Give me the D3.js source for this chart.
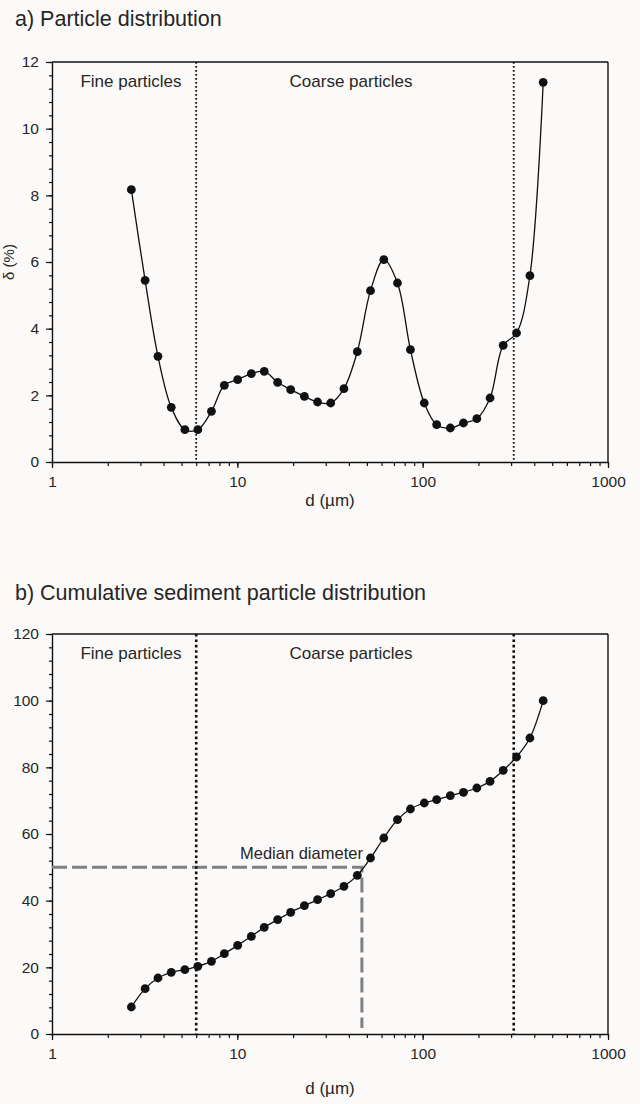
<!DOCTYPE html>
<html>
<head>
<meta charset="utf-8">
<script src="https://cdn.jsdelivr.net/npm/d3@7"></script>
<style>
  html, body { margin: 0; padding: 0; background: #fcfaf9; }
  svg { display: block; font-family: "Liberation Sans", Arial, sans-serif; }
</style>
</head>
<body>
<svg id="chart" width="640" height="1104"></svg>
<script>
// ---- Data ----
const sizes = [2.68, 3.18, 3.73, 4.40, 5.21, 6.12, 7.25, 8.51, 10.04, 11.9, 13.97, 16.5, 19.4, 23.0, 27.1, 31.9,
               37.6, 44.4, 52.3, 61.7, 73.1, 85.9, 102, 119, 141, 166, 196, 231, 272, 321, 379, 447];
const distValues = [8.17, 5.45, 3.17, 1.64, 0.97, 0.97, 1.52, 2.30, 2.47, 2.65, 2.72, 2.39, 2.17, 1.97, 1.80, 1.77,
                    2.20, 3.31, 5.14, 6.07, 5.37, 3.37, 1.77, 1.12, 1.02, 1.17, 1.30, 1.92, 3.50, 3.87, 5.59, 11.39];
const cumValues = [8.1, 13.6, 16.8, 18.5, 19.3, 20.3, 21.8, 24.1, 26.6, 29.3, 32.0, 34.3, 36.5, 38.5, 40.3, 42.1,
                   44.3, 47.6, 52.8, 58.8, 64.3, 67.5, 69.3, 70.3, 71.5, 72.5, 73.8, 75.8, 79.1, 83.1, 88.8, 100.0];
const xTickLabels = [1, 10, 100, 1000];
const yTicksA = [0, 2, 4, 6, 8, 10, 12];
const yTicksB = [0, 20, 40, 60, 80, 100, 120];
const fineLimit = 6.0;
const coarseLimit = 310;
const medianDiameter = 47;
const medianPercent = 50;
const titles = ["a) Particle distribution", "b) Cumulative sediment particle distribution"];
const regionLabels = ["Fine particles", "Coarse particles"];

const svg = d3.select("#chart");
const TXT = "#262626";

function minorLogTicks() {
  const t = [];
  for (let e = 0; e < 3; e++) for (let m = 1; m <= 9; m++) t.push(m * Math.pow(10, e));
  t.push(1000);
  return t;
}

function drawPanel(opts) {
  const { top, bottom, yMax, yTicks, yMinorStep, values, title, titleY, xLabelY, dotWidth, dotDash, curve, median } = opts;
  const left = 52, right = 608;
  const x = d3.scaleLog().domain([1, 1000]).range([left, right]);
  const y = d3.scaleLinear().domain([0, yMax]).range([bottom, top]);
  const g = svg.append("g");

  // Title
  g.append("text").attr("x", 15).attr("y", titleY).attr("font-size", 21.5).attr("fill", TXT).text(title);

  // Frame (top and right)
  g.append("line").attr("x1", left).attr("x2", right).attr("y1", top).attr("y2", top)
    .attr("stroke", "#111").attr("stroke-width", 1.4);
  g.append("line").attr("x1", right).attr("x2", right).attr("y1", top).attr("y2", bottom)
    .attr("stroke", "#111").attr("stroke-width", 1.4);

  // Y axis
  const yMinor = d3.range(0, yMax + 1e-9, yMinorStep);
  const yMinorAxis = d3.axisLeft(y).tickValues(yMinor).tickSize(3).tickFormat("");
  g.append("g").attr("transform", `translate(${left},0)`).call(yMinorAxis)
    .call(a => a.select(".domain").remove())
    .selectAll("line").attr("stroke", "#111").attr("stroke-width", 1.2);
  const yAxis = d3.axisLeft(y).tickValues(yTicks).tickSize(6).tickPadding(7).tickSizeOuter(0);
  const ya = g.append("g").attr("transform", `translate(${left},0)`).call(yAxis);
  ya.select(".domain").attr("stroke", "#111").attr("stroke-width", 1.4);
  ya.selectAll("line").attr("stroke", "#111").attr("stroke-width", 1.2);
  ya.selectAll("text").attr("font-size", 15.5).attr("fill", TXT).attr("font-family", "Liberation Sans, Arial, sans-serif");

  // X axis
  const xMinorAxis = d3.axisBottom(x).tickValues(minorLogTicks()).tickSize(4).tickFormat("");
  g.append("g").attr("transform", `translate(0,${bottom})`).call(xMinorAxis)
    .call(a => a.select(".domain").remove())
    .selectAll("line").attr("stroke", "#111").attr("stroke-width", 1.2);
  const xAxis = d3.axisBottom(x).tickValues(xTickLabels).tickSize(6).tickPadding(8)
    .tickSizeOuter(0).tickFormat(d3.format("d"));
  const xa = g.append("g").attr("transform", `translate(0,${bottom})`).call(xAxis);
  xa.select(".domain").attr("stroke", "#111").attr("stroke-width", 1.4);
  xa.selectAll("line").attr("stroke", "#111").attr("stroke-width", 1.2);
  xa.selectAll("text").attr("font-size", 15.5).attr("fill", TXT).attr("font-family", "Liberation Sans, Arial, sans-serif");

  g.append("text").attr("x", (left + right) / 2).attr("y", xLabelY).attr("text-anchor", "middle")
    .attr("font-size", 17).attr("fill", TXT).text("d (µm)");

  // Median dashed lines
  if (median) {
    g.append("path")
      .attr("d", `M${left},${y(medianPercent)}H${x(medianDiameter)}V${y(1.8)}`)
      .attr("fill", "none").attr("stroke", "#808080").attr("stroke-width", 3)
      .attr("stroke-dasharray", "15,5");
    g.append("text").attr("x", x(medianDiameter) + 1).attr("y", y(medianPercent) - 8)
      .attr("text-anchor", "end").attr("font-size", 16.5).attr("fill", TXT).text("Median diameter");
  }

  // Dotted boundaries
  [fineLimit, coarseLimit].forEach(v => {
    g.append("line").attr("x1", x(v)).attr("x2", x(v)).attr("y1", top).attr("y2", bottom)
      .attr("stroke", "#111").attr("stroke-width", dotWidth).attr("stroke-dasharray", dotDash);
  });

  // Region labels
  g.append("text").attr("x", 131).attr("y", top + 25).attr("text-anchor", "middle")
    .attr("font-size", 17).attr("fill", TXT).text(regionLabels[0]);
  g.append("text").attr("x", 351).attr("y", top + 25).attr("text-anchor", "middle")
    .attr("font-size", 17).attr("fill", TXT).text(regionLabels[1]);

  // Series
  const data = sizes.map((d, i) => ({ d, v: values[i] }));
  const line = d3.line().x(p => x(p.d)).y(p => y(p.v)).curve(curve);
  g.append("path").datum(data).attr("d", line).attr("fill", "none")
    .attr("stroke", "#111").attr("stroke-width", 1.3);
  g.selectAll("circle.pt").data(data).enter().append("circle").attr("class", "pt")
    .attr("cx", p => x(p.d)).attr("cy", p => y(p.v)).attr("r", 4.4).attr("fill", "#111");
}

drawPanel({ top: 62, bottom: 462, yMax: 12, yTicks: yTicksA, yMinorStep: 0.4, values: distValues,
  title: titles[0], titleY: 26, xLabelY: 506, dotWidth: 1.8, dotDash: "1.8,2.2",
  curve: d3.curveCatmullRom.alpha(0.5), median: false });

drawPanel({ top: 634, bottom: 1034, yMax: 120, yTicks: yTicksB, yMinorStep: 4, values: cumValues,
  title: titles[1], titleY: 600, xLabelY: 1094, dotWidth: 2.6, dotDash: "2.6,2.8",
  curve: d3.curveCatmullRom.alpha(0.5), median: true });

// Y-axis label of panel a, pushed against the left edge as in the reference
svg.append("text").attr("transform", "translate(14,262) rotate(-90)").attr("text-anchor", "middle")
  .attr("font-size", 15).attr("fill", TXT).text("δ (%)");
</script>
</body>
</html>
